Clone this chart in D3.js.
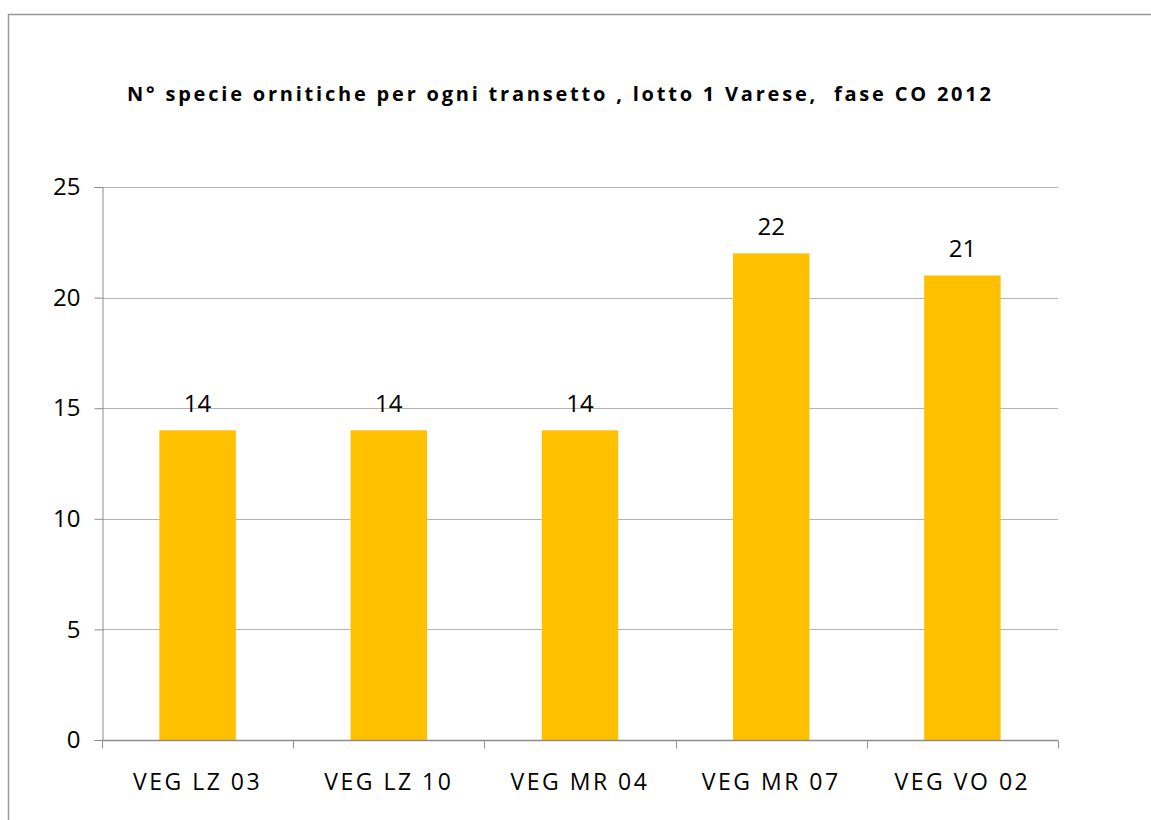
<!DOCTYPE html>
<html>
<head>
<meta charset="utf-8">
<script src="https://cdn.jsdelivr.net/npm/d3@7/dist/d3.min.js"></script>
<style>
  body { margin: 0; background: #fff; }
  svg { display: block; font-family: "Open Sans", sans-serif; }
</style>
</head>
<body>
<svg id="graph"></svg>
<script>
const categories = ['VEG LZ 03', 'VEG LZ 10', 'VEG MR 04', 'VEG MR 07', 'VEG VO 02']
const species = [14, 14, 14, 22, 21]
const yTicks = [0, 5, 10, 15, 20, 25]
const title = 'N° specie ornitiche per ogni transetto , lotto 1 Varese,  fase CO 2012'

const width = 1151
const height = 820
const margin = { top: 187, right: 93, bottom: 80, left: 102 }

const colours = {
  bar: '#ffc000',
  grid: '#b3b3b3',
  axis: '#8c8c8c',
  border: '#999999',
  text: '#000000'
}

const svg = d3.select('#graph')
  .attr('width', width)
  .attr('height', height)

// outer chart frame, runs off the right and bottom edges
svg.append('rect')
  .attr('x', 8.5)
  .attr('y', 14.5)
  .attr('width', width)
  .attr('height', height)
  .attr('fill', 'none')
  .attr('stroke', colours.border)
  .attr('stroke-width', 1.5)

const x = d3.scaleBand()
  .domain(categories)
  .range([margin.left, width - margin.right])

const y = d3.scaleLinear()
  .domain([0, 25])
  .range([height - margin.bottom, margin.top])

// gridlines
svg.append('g')
  .selectAll('line')
  .data(yTicks.filter(d => d > 0))
  .enter()
  .append('line')
  .attr('x1', margin.left)
  .attr('x2', width - margin.right)
  .attr('y1', d => Math.round(y(d)) + 0.5)
  .attr('y2', d => Math.round(y(d)) + 0.5)
  .attr('stroke', colours.grid)

// y axis
const yAxis = svg.append('g')
  .attr('transform', `translate(${margin.left + 0.5},0)`)
  .call(d3.axisLeft(y).tickValues(yTicks).tickSize(8).tickPadding(14))
yAxis.selectAll('path, line').attr('stroke', colours.axis)
yAxis.selectAll('text')
  .attr('font-size', 24)
  .attr('font-family', '"Open Sans", sans-serif')
  .attr('fill', colours.text)

// bars
const barW = x.bandwidth() * 0.4
svg.append('g')
  .selectAll('rect')
  .data(species)
  .enter()
  .append('rect')
  .attr('x', (d, i) => x(categories[i]) + (x.bandwidth() - barW) / 2)
  .attr('y', d => y(d))
  .attr('width', barW)
  .attr('height', d => y(0) - y(d))
  .attr('fill', colours.bar)

// value labels
svg.append('g')
  .selectAll('text')
  .data(species)
  .enter()
  .append('text')
  .attr('x', (d, i) => x(categories[i]) + x.bandwidth() / 2)
  .attr('y', d => y(d) - 18)
  .attr('text-anchor', 'middle')
  .attr('font-size', 24)
  .attr('fill', colours.text)
  .text(d => d)

// x axis, ticks at band edges
const xAxis = svg.append('g')
  .attr('transform', `translate(0,${height - margin.bottom + 0.5})`)
xAxis.append('line')
  .attr('x1', margin.left)
  .attr('x2', width - margin.right)
  .attr('stroke', colours.axis)
  .attr('stroke-width', 1.5)
xAxis.selectAll('line.tick')
  .data(categories.concat(['end']))
  .enter()
  .append('line')
  .attr('class', 'tick')
  .attr('x1', (d, i) => Math.round(margin.left + i * x.step()) + 0.5)
  .attr('x2', (d, i) => Math.round(margin.left + i * x.step()) + 0.5)
  .attr('y1', 0)
  .attr('y2', 8)
  .attr('stroke', colours.axis)
xAxis.selectAll('text')
  .data(categories)
  .enter()
  .append('text')
  .attr('x', d => x(d) + x.bandwidth() / 2)
  .attr('y', 49)
  .attr('text-anchor', 'middle')
  .attr('font-size', 23)
  .attr('letter-spacing', 2.5)
  .attr('fill', colours.text)
  .text(d => d)

// title
svg.append('text')
  .attr('x', 127)
  .attr('y', 101)
  .attr('font-size', 20)
  .attr('font-weight', 'bold')
  .attr('fill', colours.text)
  .attr('xml:space', 'preserve')
  .style('white-space', 'pre')
  .attr('textLength', 864)
  .attr('lengthAdjust', 'spacing')
  .text(title)
</script>
</body>
</html>
